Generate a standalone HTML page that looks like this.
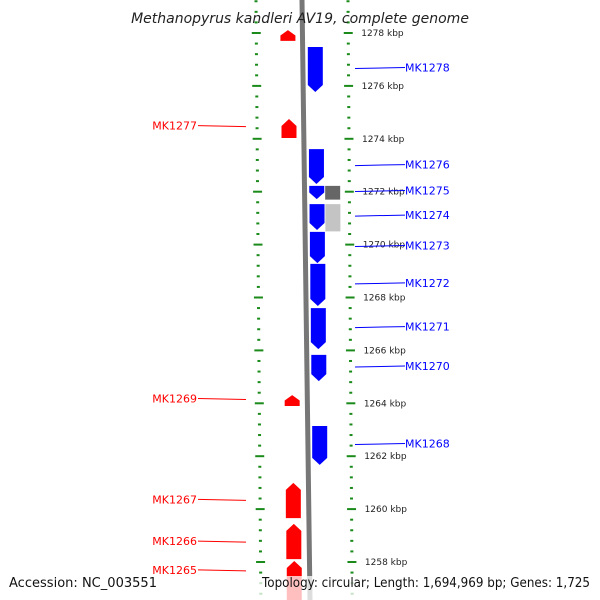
<!DOCTYPE html>
<html><head><meta charset="utf-8"><style>
body{margin:0;background:#fff}
svg{display:block;font-family:"DejaVu Sans","Liberation Sans",sans-serif}
</style></head><body>
<svg id="chart" width="600" height="600" viewBox="0 0 600 600">
<g id="rulers"></g>
<text x="300" y="23" text-anchor="middle" font-size="14" font-style="italic" fill="#222">Methanopyrus kandleri AV19, complete genome</text>
<g id="genes"></g>
<rect x="0" y="576" width="600" height="24" fill="#fff" opacity="0.75"/>
<text x="9" y="587" font-size="13" fill="#111" textLength="148" lengthAdjust="spacingAndGlyphs">Accession: NC_003551</text>
<text x="262" y="587" font-size="13" fill="#111" textLength="328" lengthAdjust="spacingAndGlyphs">Topology: circular; Length: 1,694,969 bp; Genes: 1,725</text>
</svg>
<script>
const majorTicks=[1278,1276,1274,1272,1270,1268,1266,1264,1262,1260,1258];
const fwdNames=["MK1278","MK1276","MK1275","MK1274","MK1273","MK1272","MK1271","MK1270","MK1268"];
const fwdStart=[1277.47,1273.61,1272.22,1271.53,1270.48,1269.27,1267.60,1265.83,1263.14];
const fwdEnd=[1275.77,1272.29,1271.72,1270.55,1269.30,1267.68,1266.05,1264.84,1261.67];
const revNames=["","MK1277","MK1269","MK1267","MK1266","MK1265"];
const revStart=[1277.70,1274.03,1263.90,1259.66,1258.11,1256.56];
const revEnd=[1278.11,1274.75,1264.31,1260.99,1259.44,1258.04];
const revLabelK=[1278,1274.50,1264.18,1260.37,1258.79,1257.70];
const greyStart=[1272.22,1271.53];
const greyEnd=[1271.70,1270.50];
const greyFill=["#666","#c4c4c4"];

const NS="http://www.w3.org/2000/svg";
const Y=k=>33+(1278-k)*26.45;
const sl=y=>y/600*7;
function mk(tag,attrs,parent){const e=document.createElementNS(NS,tag);for(const a in attrs)e.setAttribute(a,attrs[a]);parent.appendChild(e);return e;}
const R=document.getElementById('rulers'),G=document.getElementById('genes');

const bb=mk('path',{d:"M302,0 L310,600",stroke:"#777",'stroke-width':5,fill:"none"},R);


for(let k=1279.2;k>=1256.0;k-=0.4){
  const kk=Math.round(k*10)/10;const y=Y(kk);if(y<0||y>600)continue;
  const major=Math.abs(kk/2-Math.round(kk/2))<0.01;
  const w=major?9:3;
  const lx=256+sl(y)*0.7, rx=348+sl(y)*0.6;
  const t1=mk('line',{x1:lx-w/2,x2:lx+w/2,y1:y,y2:y,stroke:"#1a8a1a",'stroke-width':2},R);
  
  
  const t2=mk('line',{x1:rx-w/2,x2:rx+w/2,y1:y,y2:y,stroke:"#1a8a1a",'stroke-width':2},R);
  
  
}
majorTicks.forEach(k=>{const y=Y(k);
  const t=mk('text',{x:361+sl(y)*0.6,y:y+3,'font-size':9,fill:"#222"},R);t.textContent=k+" kbp";
  
  
});
greyStart.forEach((s,i)=>{const y1=Y(s),y2=Y(greyEnd[i]);
  const r=mk('rect',{x:323+sl(y1),y:y1,width:15,height:y2-y1,fill:greyFill[i]},G);
  
  
});
fwdNames.forEach((n,i)=>{const y1=Y(fwdStart[i]),y2=Y(fwdEnd[i]);const x=307+sl((y1+y2)/2);
  const h=Math.min(7,(y2-y1)/2);
  const p=mk('polygon',{points:`${x},${y1} ${x+15},${y1} ${x+15},${y2-h} ${x+7.5},${y2} ${x},${y2-h}`,fill:"#0000ff"},G);
  
  
  const ly=(y1+y2)/2-2;
  const l=mk('line',{x1:355,x2:405,y1:ly+1,y2:ly,stroke:"#0000ff",'stroke-width':1},G);
  
  
  const t=mk('text',{x:405,y:ly+4,'font-size':11,fill:"#0000ff"},G);t.textContent=n;
  
  
});
revNames.forEach((n,i)=>{const y1=Y(revEnd[i]),y2=Y(revStart[i]);const x=280+sl((y1+y2)/2);
  const h=Math.min(7,(y2-y1)/2);
  const p=mk('polygon',{points:`${x+7.5},${y1} ${x+15},${y1+h} ${x+15},${y2} ${x},${y2} ${x},${y1+h}`,fill:"#ff0000"},G);
  
  
  if(!n)return;
  const ly=Y(revLabelK[i]);
  const l=mk('line',{x1:198,x2:246,y1:ly,y2:ly+1,stroke:"#ff0000",'stroke-width':1},G);
  
  
  const t=mk('text',{x:197,y:ly+4,'font-size':11,fill:"#ff0000",'text-anchor':"end"},G);t.textContent=n;
  
  
});
</script>
</body></html>
